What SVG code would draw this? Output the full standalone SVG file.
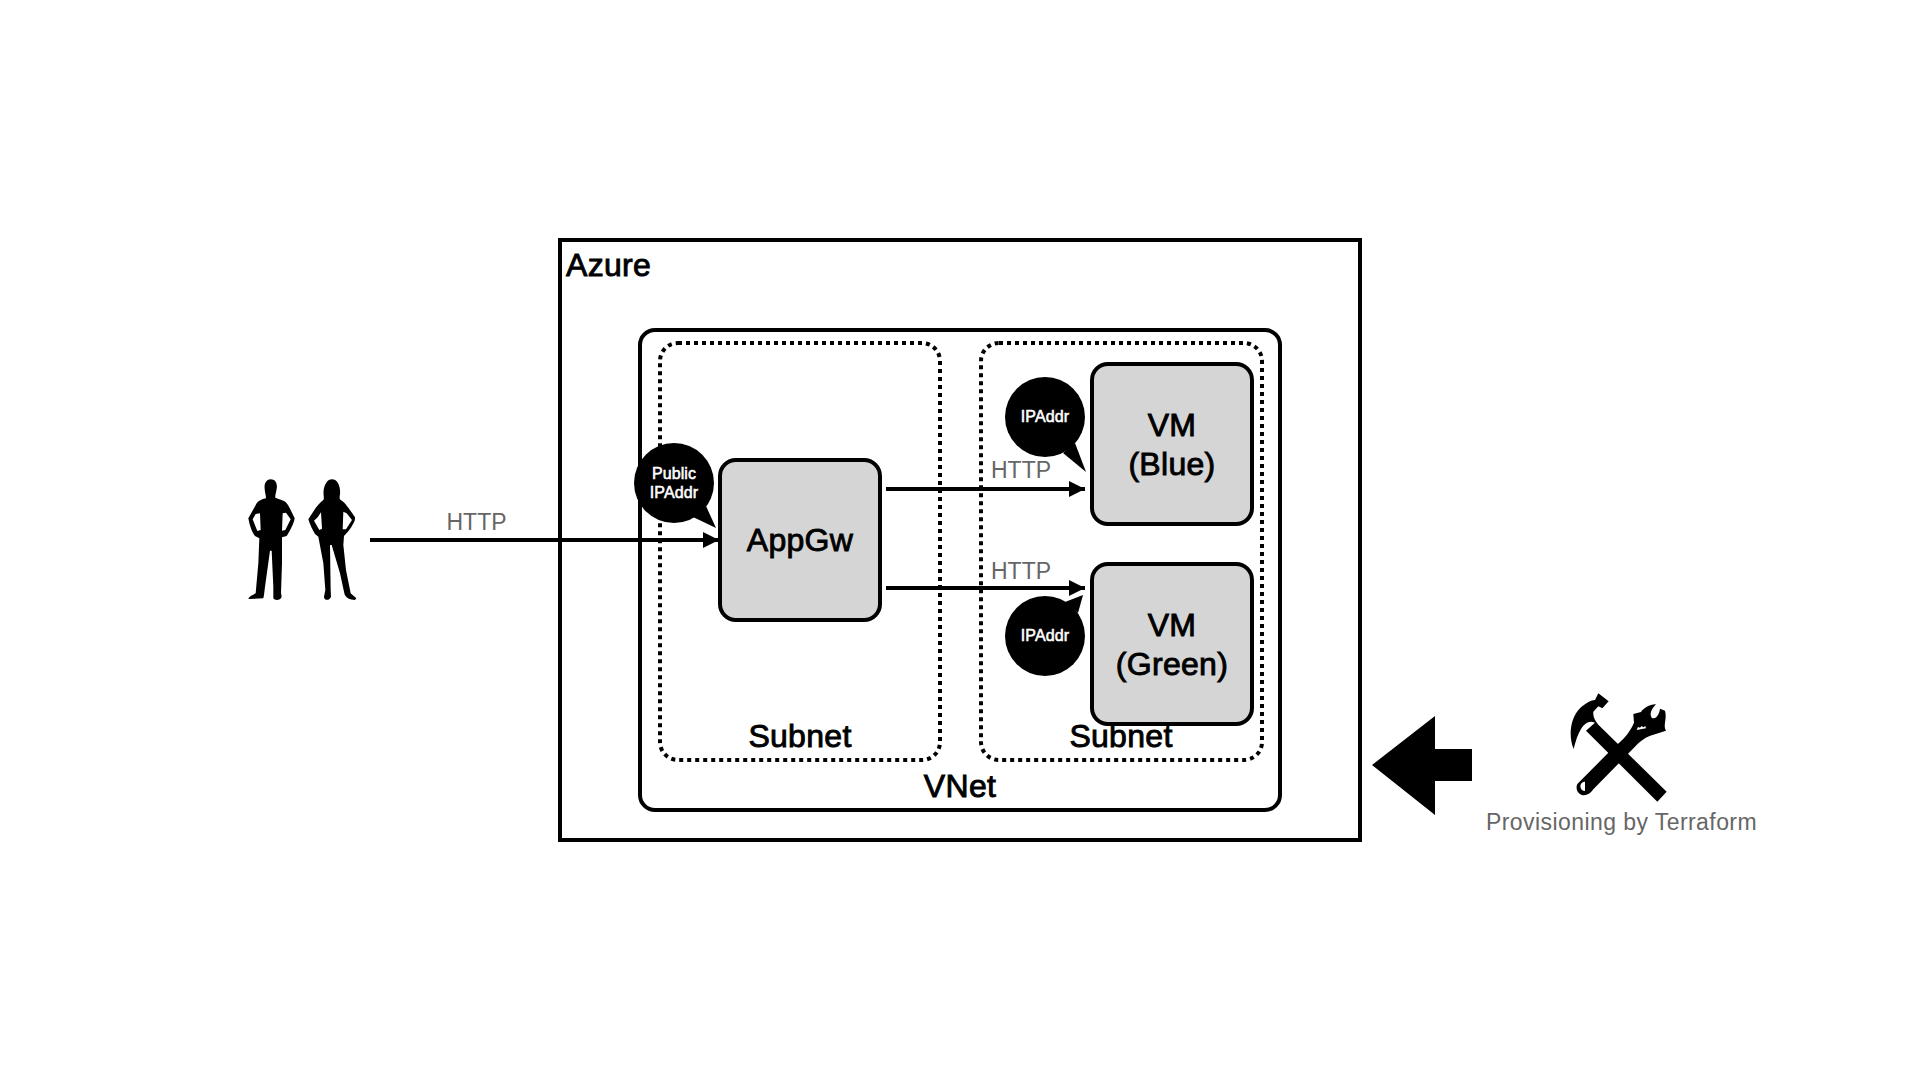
<svg xmlns="http://www.w3.org/2000/svg" width="1920" height="1080" viewBox="0 0 1920 1080">
<style>
text{font-family:"Liberation Sans",Arial,sans-serif;text-anchor:middle}
.box{fill:none;stroke:#000;stroke-width:4}
.sub{fill:none;stroke:#000;stroke-width:4;stroke-dasharray:4 4}
.node{fill:#d5d5d5;stroke:#000;stroke-width:4}
.lbl{font-size:32px;fill:#000;stroke:#000;stroke-width:.9;letter-spacing:.3px}
.gray{font-size:23px;fill:#666}
.ip{font-size:16px;fill:#fff;stroke:#fff;stroke-width:.55;letter-spacing:.1px}
.conn{stroke:#000;stroke-width:4;fill:none;marker-end:url(#arrow)}
</style>
<defs>
<marker id="arrow" markerUnits="userSpaceOnUse" markerWidth="18" markerHeight="18" refX="16" refY="8" orient="auto"><path d="M0 0L16 8L0 16Z" fill="#000"/></marker>
</defs>
<rect width="1920" height="1080" fill="#fff"/>
<g id="azure"><rect class="box" x="560" y="240" width="800" height="600"/><text class="lbl" style="text-anchor:start" x="566" y="276">Azure</text></g>
<g id="vnet"><rect class="box" x="640" y="330" width="640" height="480" rx="15"/><text class="lbl" x="960" y="797">VNet</text></g>
<g id="subnet-left"><rect class="sub" x="660" y="343" width="280" height="417" rx="18"/><text class="lbl" x="800" y="747">Subnet</text></g>
<g id="subnet-right"><rect class="sub" x="981" y="343" width="281" height="417" rx="18"/><text class="lbl" x="1121" y="747">Subnet</text></g>
<g id="connectors">
<line class="conn" x1="370" y1="540" x2="719" y2="540"/>
<line class="conn" x1="886" y1="489" x2="1085" y2="489"/>
<line class="conn" x1="886" y1="588" x2="1085" y2="588"/>
</g>
<g id="http-labels">
<text class="gray" x="476.500" y="530">HTTP</text>
<text class="gray" x="1021" y="478">HTTP</text>
<text class="gray" x="1021" y="579">HTTP</text>
</g>
<g id="appgw"><rect class="node" x="720" y="460" width="160" height="160" rx="16"/><text class="lbl" x="800" y="551">AppGw</text></g>
<g id="vm-blue"><rect class="node" x="1092" y="364" width="160" height="160" rx="16"/><text class="lbl" x="1172" y="436">VM</text><text class="lbl" x="1172" y="475">(Blue)</text></g>
<g id="vm-green"><rect class="node" x="1092" y="564" width="160" height="160" rx="16"/><text class="lbl" x="1172" y="636">VM</text><text class="lbl" x="1172" y="675">(Green)</text></g>
<g id="public-ip"><circle cx="674" cy="483" r="40"/><path d="M706 506L716 528L693 517Z"/><text class="ip" x="674" y="479">Public</text><text class="ip" x="674" y="498">IPAddr</text></g>
<g id="ip-blue"><circle cx="1045" cy="417" r="40"/><path d="M1075 443L1086 472L1063 453Z"/><text class="ip" x="1045" y="422">IPAddr</text></g>
<g id="ip-green"><circle cx="1045" cy="636" r="40"/><path d="M1078 613L1083 595L1065 602Z"/><text class="ip" x="1045" y="641">IPAddr</text></g>
<g id="users" transform="translate(220 430) scale(.33333)">
<path fill-rule="evenodd" d="M152 148C166 148 173 160 170 176C168 190 165 195 166 203L192 213C200 217 205 226 212 240L224 265C222 280 210 303 200 318L186 322L186 400L183 488L185 500C182 511 165 513 160 505L160 470L155 362L150 362L135 470L132 495L130 505L85 507C88 498 100 495 107 490L115 400L118 325L105 318C95 305 90 290 85 265L110 220C115 213 125 208 138 205C138 195 135 190 134 176C132 160 140 148 152 148ZM107 252L120 250L122 300L112 303L98 268ZM188 250L198 248L212 268L196 300L186 302Z"/>
<path fill-rule="evenodd" d="M336 148C350 148 358 162 360 180C362 195 355 205 362 210C372 215 380 225 405 262C408 275 385 305 372 318L370 345L378 420L392 490L409 505L405 510C390 510 375 503 373 490L360 430L335 345L330 345L332 480L333 500C330 512 312 513 312 500L316 480L310 400L295 320L285 312C278 300 270 285 265 268C280 245 290 225 310 210C314 205 308 190 312 175C316 158 325 148 336 148ZM293 262L303 247L306 296L298 300L282 272ZM370 245L380 250L396 270L378 298L368 298Z"/>
</g>
<g id="provision-arrow"><path d="M1372 765L1435 716V749H1472V781H1435V815Z"/></g>
<g id="tools" transform="translate(1350 680) scale(.33333)">
<path d="M745 40L776 64L757 85L745 79L730 95C728 110 735 122 745 134L950 335L922 365L708 152L735 128C705 115 685 150 671 207C655 170 660 115 690 85C705 70 725 60 735 60Z"/>
<path fill-rule="evenodd" d="M682 312L795 198C815 185 838 160 852 128L850 102L873 96C880 85 900 72 918 73C905 88 897 100 905 113C918 120 928 102 930 86L945 92C952 118 938 135 948 152L915 163C895 168 878 178 865 190L730 328C720 345 700 350 690 342C680 335 677 322 682 312ZM705 305A14 14 0 1 0 705.100 333ZM860 150L888 145L886 138L880 142L875 138L870 143L864 141Z"/>
</g>
<text id="provision-label" class="gray" style="letter-spacing:.43px" x="1621.500" y="830">Provisioning by Terraform</text>
</svg>
